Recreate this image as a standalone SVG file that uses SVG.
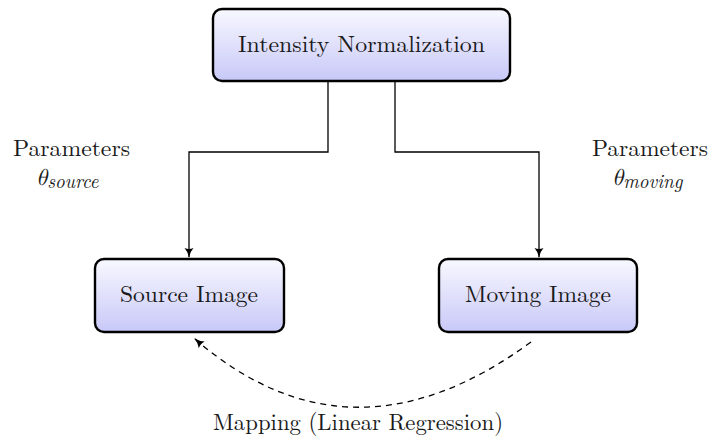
<svg xmlns="http://www.w3.org/2000/svg" width="713" height="439" viewBox="0 0 713 439">
<defs>
<linearGradient id="g" x1="0" y1="0" x2="0" y2="1">
<stop offset="0" stop-color="#f8f8ff"/>
<stop offset="1" stop-color="#c8c8f8"/>
</linearGradient>
<marker id="ah" viewBox="0 0 10 10" refX="9" refY="5" markerWidth="10" markerHeight="10" markerUnits="userSpaceOnUse" orient="auto">
<path d="M0,0.5 Q4,4 10,5 Q4,6 0,9.5 Q2,5 0,0.5 Z" fill="#000"/>
</marker>
</defs>
<style>
.box{fill:url(#g);stroke:#000;stroke-width:2.4}
.t{font-family:"Latin Modern Roman","CMU Serif","Liberation Serif",serif;font-size:23.5px;fill:#1a1a1a;text-anchor:middle}
.th{font-family:"Latin Modern Math","Liberation Serif",serif;font-style:italic;font-size:23px;fill:#1a1a1a}
.sub{font-family:"Latin Modern Roman","CMU Serif","Liberation Serif",serif;font-style:italic;font-size:19px}
.c{fill:none;stroke:#000;stroke-width:1.3}
</style>
<g id="intensity">
<rect class="box" x="213" y="9" width="297" height="72" rx="9"/>
<text class="t" x="361.5" y="52" textLength="247" lengthAdjust="spacingAndGlyphs">Intensity Normalization</text>
</g>
<g id="source">
<rect class="box" x="95" y="259" width="189" height="73" rx="9"/>
<text class="t" x="189" y="302" textLength="138" lengthAdjust="spacingAndGlyphs">Source Image</text>
</g>
<g id="moving">
<rect class="box" x="439" y="259" width="198" height="73" rx="9"/>
<text class="t" x="538" y="302" textLength="146" lengthAdjust="spacingAndGlyphs">Moving Image</text>
</g>
<g id="labels">
<text class="t" x="71.5" y="156" textLength="117" lengthAdjust="spacingAndGlyphs">Parameters</text>
<text class="th" x="36" y="185">θ<tspan class="sub" dy="3">source</tspan></text>
<text class="t" x="650" y="156" textLength="116" lengthAdjust="spacingAndGlyphs">Parameters</text>
<text class="th" x="612" y="185">θ<tspan class="sub" dy="3">moving</tspan></text>
<text class="t" x="358" y="430" textLength="290" lengthAdjust="spacingAndGlyphs">Mapping (Linear Regression)</text>
</g>
<g id="connectors">
<path class="c" d="M328,81 V152 H189 V257" marker-end="url(#ah)"/>
<path class="c" d="M395,81 V152 H539 V257" marker-end="url(#ah)"/>
<path class="c" d="M531,342 Q351,474 195,339" stroke-dasharray="6,5" marker-end="url(#ah)"/>
</g>
</svg>
